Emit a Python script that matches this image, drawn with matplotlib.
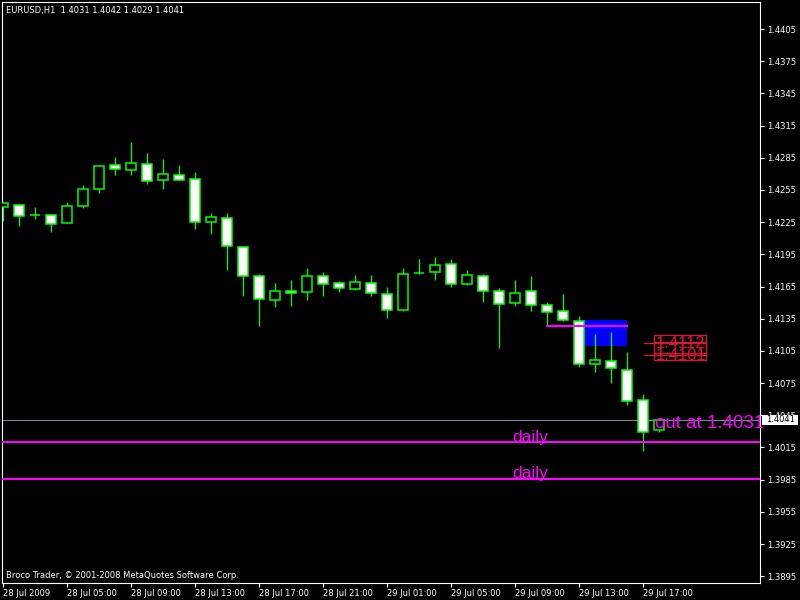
import matplotlib
matplotlib.use("Agg")
import matplotlib.pyplot as plt
from matplotlib.patches import Rectangle

# EURUSD H1 bars, 28 Jul 01:00 .. 29 Jul 18:00
opens = [1.4239, 1.4241, 1.4232, 1.4232, 1.4224, 1.4240, 1.4256, 1.4278, 1.4274, 1.4279,
         1.4264, 1.4269, 1.4265, 1.4225, 1.4229, 1.4202, 1.4175, 1.4152, 1.4161, 1.4160,
         1.4175, 1.4168, 1.4163, 1.4168, 1.4158, 1.4143, 1.4178, 1.4179, 1.4186, 1.4167,
         1.4175, 1.4161, 1.4150, 1.4161, 1.4148, 1.4142, 1.4133, 1.4093, 1.4096, 1.4087,
         1.4059, 1.4031]
highs = [1.4244, 1.4242, 1.4239, 1.4233, 1.4244, 1.4260, 1.4277, 1.4286, 1.4300, 1.4289,
         1.4284, 1.4278, 1.4272, 1.4234, 1.4234, 1.4202, 1.4177, 1.4168, 1.4171, 1.4182,
         1.4179, 1.4170, 1.4176, 1.4176, 1.4165, 1.4182, 1.4191, 1.4193, 1.4191, 1.4180,
         1.4177, 1.4164, 1.4171, 1.4175, 1.4151, 1.4158, 1.4138, 1.4121, 1.4123, 1.4104,
         1.4065, 1.4042]
lows = [1.4226, 1.4221, 1.4228, 1.4216, 1.4224, 1.4238, 1.4252, 1.4269, 1.4269, 1.4261,
        1.4256, 1.4264, 1.4219, 1.4214, 1.4180, 1.4156, 1.4128, 1.4146, 1.4147, 1.4152,
        1.4156, 1.4160, 1.4162, 1.4156, 1.4136, 1.4142, 1.4177, 1.4171, 1.4165, 1.4166,
        1.4151, 1.4108, 1.4147, 1.4142, 1.4128, 1.4133, 1.4090, 1.4085, 1.4075, 1.4055,
        1.4012, 1.4029]
closes = [1.4243, 1.4231, 1.4232, 1.4223, 1.4240, 1.4256, 1.4277, 1.4275, 1.4280, 1.4263,
          1.4270, 1.4264, 1.4225, 1.4230, 1.4203, 1.4175, 1.4153, 1.4161, 1.4159, 1.4175,
          1.4167, 1.4164, 1.4169, 1.4159, 1.4143, 1.4177, 1.4178, 1.4185, 1.4167, 1.4176,
          1.4161, 1.4149, 1.4159, 1.4148, 1.4141, 1.4134, 1.4093, 1.4097, 1.4089, 1.4058,
          1.4029, 1.4041]

time_ticks = [0, 4, 8, 12, 16, 20, 24, 28, 32, 36, 40]
time_labels = ["28 Jul 2009", "28 Jul 05:00", "28 Jul 09:00", "28 Jul 13:00", "28 Jul 17:00",
               "28 Jul 21:00", "29 Jul 01:00", "29 Jul 05:00", "29 Jul 09:00", "29 Jul 13:00",
               "29 Jul 17:00"]
price_ticks = [1.3895 + 0.0030 * i for i in range(18)]

bid = 1.4041
daily_levels = [1.4020, 1.3986]
zone_bars = (36, 39)
zone_prices = (1.4110, 1.4134)
entry_bars = (34, 39)
entry_price = 1.4128
red_levels = [1.4112, 1.4101]
title = "EURUSD,H1  1.4031 1.4042 1.4029 1.4041"
credits = "Broco Trader, \u00a9 2001-2008 MetaQuotes Software Corp."

plt.rcParams['font.family'] = 'DejaVu Sans'
fig = plt.figure(figsize=(8, 6), dpi=100, facecolor='black')
ax = fig.add_axes([2 / 800, 17 / 600, 758 / 800, 581 / 600], facecolor='black')
ax.set_xlim(-0.0625, 47.3125)
ax.set_ylim(1.38887, 1.44302)

lime = '#00FF00'
magenta = '#FF00FF'
crimson = '#DC143C'

# zone rectangle behind the candles
ax.add_patch(Rectangle((zone_bars[0], zone_prices[0]), zone_bars[1] - zone_bars[0],
                       zone_prices[1] - zone_prices[0], facecolor='#0000FF', edgecolor='none', zorder=1))

ax.axhline(bid, color='#778899', lw=0.8, zorder=1)

xs = list(range(len(opens)))
ax.vlines(xs, lows, highs, color=lime, lw=0.9, zorder=2)
for i in xs:
    fc = 'white' if closes[i] < opens[i] else 'black'
    ax.bar(i, closes[i] - opens[i], bottom=opens[i], width=0.62, facecolor=fc,
           edgecolor=lime, linewidth=1.1, zorder=3)

for lv in daily_levels:
    ax.axhline(lv, color=magenta, lw=1.5, zorder=4)
    ax.text(31.85, lv + 0.00003, "daily", color=magenta, fontsize=12.5,
            family='Liberation Sans', ha='left', va='baseline', zorder=5)

ax.plot(entry_bars, [entry_price, entry_price], color=magenta, lw=1.5, zorder=4)

# red price labels
for lv, top, bot in zip(red_levels, [1.41198, 1.41132], [1.41030, 1.40964]):
    ax.add_patch(Rectangle((40.69, bot), 3.23, top - bot, facecolor='none',
                           edgecolor=crimson, lw=0.9, zorder=5))
    ax.plot([40.06, 43.92], [lv, lv], color=crimson, lw=0.9, zorder=5)
    ax.text(40.8, lv, "%.4f" % lv, color=crimson, fontsize=12, family='Liberation Sans',
            ha='left', va='center', zorder=6)

ax.text(40.75, 1.40334, "out at 1.4031", color=magenta, fontsize=13.5,
        family='Liberation Sans', ha='left', va='baseline', zorder=6)

ax.text(4 / 758, 1 - 8 / 581, title, transform=ax.transAxes, color='white',
        fontsize=6, ha='left', va='center')
ax.text(4 / 758, 8 / 581, credits, transform=ax.transAxes, color='white',
        fontsize=6, ha='left', va='center')

for s in ax.spines.values():
    s.set_color('white')
    s.set_linewidth(0.8)

ax.yaxis.tick_right()
ax.set_yticks(price_ticks)
ax.set_yticklabels(["%.4f" % p for p in price_ticks])
ax.set_xticks(time_ticks)
ax.set_xticklabels(time_labels, ha='left')
ax.tick_params(colors='white', labelsize=6, length=3, width=0.8, pad=2)
ax.tick_params(axis='x', pad=1.5)

# current bid label on the price scale
ytr = ax.get_yaxis_transform()
ax.add_patch(Rectangle((760 / 758, bid - 0.00047), 36 / 758, 0.00094, transform=ytr,
                       facecolor='white', edgecolor='none', clip_on=False, zorder=19))
ax.text(764 / 758, bid, "%.4f" % bid, transform=ytr, color='black',
        fontsize=6, ha='left', va='center', clip_on=False, zorder=20)

fig.savefig('out.png', dpi=100, facecolor='black')
